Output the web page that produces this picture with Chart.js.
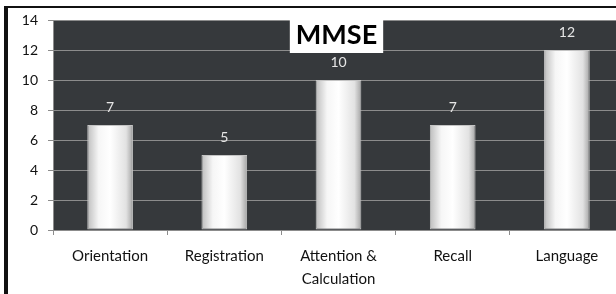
<!DOCTYPE html>
<html>
<head>
<meta charset="utf-8">
<title>MMSE</title>
<script src="https://cdn.jsdelivr.net/npm/chart.js@4/dist/chart.umd.min.js"></script>
<style>
    html, body { margin: 0; padding: 0; background: #fff; overflow: hidden; }
    body { width: 616px; height: 294px; position: relative; }
    .frame {
        position: absolute; left: 4px; top: 6px;
        width: 700px; height: 400px;
        border-left: 4px solid #111; border-top: 2px solid #111;
    }
    .wrap { position: absolute; left: 0; top: 0; width: 640px; height: 294px; }
</style>
</head>
<body>
<div class="frame"></div>
<div class="wrap"><canvas id="mmse-chart" width="640" height="294"></canvas></div>
<script>
const categories = ['Orientation', 'Registration', ['Attention &', 'Calculation'], 'Recall', 'Language'];
const scores = [7, 5, 10, 7, 12];
const yTicks = [0, 2, 4, 6, 8, 10, 12, 14];
const chartTitle = 'MMSE';

const FONT = 'Lato, "Open Sans", sans-serif';

// Dark plot background
const plotBackground = {
    id: 'plotBackground',
    beforeDraw(chart) {
        const { ctx, chartArea: a } = chart;
        ctx.save();
        ctx.fillStyle = '#36393c';
        ctx.fillRect(a.left, a.top, a.right - a.left, a.bottom - a.top);
        ctx.restore();
    }
};

// Value labels above each bar
const valueLabels = {
    id: 'valueLabels',
    afterDatasetsDraw(chart) {
        const ctx = chart.ctx;
        const meta = chart.getDatasetMeta(0);
        ctx.save();
        ctx.fillStyle = '#e6e6e6';
        ctx.font = '14px ' + FONT;
        ctx.textAlign = 'center';
        ctx.textBaseline = 'middle';
        meta.data.forEach((bar, i) => {
            ctx.fillText(String(scores[i]), bar.x, bar.y - 18);
        });
        ctx.restore();
    }
};

// Title on a white box, over the plot
const titleBox = {
    id: 'titleBox',
    afterDraw(chart) {
        const ctx = chart.ctx;
        const cx = chart.scales.x.getPixelForValue(2) - 2;
        ctx.save();
        ctx.font = 'bold 27px ' + FONT;
        const w = ctx.measureText(chartTitle).width + 12;
        ctx.fillStyle = '#fff';
        ctx.fillRect(cx - w / 2, 18, w, 35);
        ctx.fillStyle = '#000';
        ctx.textAlign = 'center';
        ctx.textBaseline = 'middle';
        ctx.fillText(chartTitle, cx, 35);
        ctx.restore();
    }
};

// Cylinder-like shading across each bar
function barGradient(context) {
    const chart = context.chart;
    if (!chart.chartArea || context.dataIndex === undefined) return '#eeeeee';
    const xs = chart.scales.x;
    const cx = xs.getPixelForValue(context.dataIndex);
    const half = (xs.width / categories.length) * 0.4 / 2;
    const g = chart.ctx.createLinearGradient(cx - half, 0, cx + half, 0);
    g.addColorStop(0, '#bdbdbd');
    g.addColorStop(0.25, '#f6f6f6');
    g.addColorStop(0.5, '#ffffff');
    g.addColorStop(0.85, '#e2e2e2');
    g.addColorStop(1, '#a4a4a4');
    return g;
}

new Chart(document.getElementById('mmse-chart'), {
    type: 'bar',
    data: {
        labels: categories,
        datasets: [{
            data: scores,
            backgroundColor: barGradient,
            borderColor: '#c4c4c4',
            borderWidth: 1,
            borderSkipped: false,
            categoryPercentage: 1,
            barPercentage: 0.4
        }]
    },
    options: {
        responsive: false,
        animation: false,
        layout: { padding: { top: 20, right: 16, left: 0, bottom: 0 } },
        plugins: {
            legend: { display: false },
            title: { display: false },
            tooltip: { enabled: false }
        },
        scales: {
            x: {
                grid: {
                    drawOnChartArea: false,
                    drawTicks: true,
                    tickLength: 5,
                    color: '#8c8c8c'
                },
                border: { color: '#8c8c8c' },
                ticks: {
                    color: '#111',
                    font: { family: FONT, size: 15, lineHeight: 1.5 },
                    padding: 10,
                    maxRotation: 0,
                    autoSkip: false
                },
                afterFit(scale) { scale.height = 64; }
            },
            y: {
                min: 0,
                max: 14,
                afterBuildTicks(scale) { scale.ticks = yTicks.map(v => ({ value: v })); },
                grid: {
                    color: '#8c8c8c',
                    lineWidth: 1,
                    tickLength: 5
                },
                border: { color: '#8c8c8c' },
                ticks: {
                    color: '#111',
                    font: { family: FONT, size: 14 },
                    padding: 10
                },
                afterFit(scale) { scale.width = 53; }
            }
        }
    },
    plugins: [plotBackground, valueLabels, titleBox]
});
</script>
</body>
</html>
